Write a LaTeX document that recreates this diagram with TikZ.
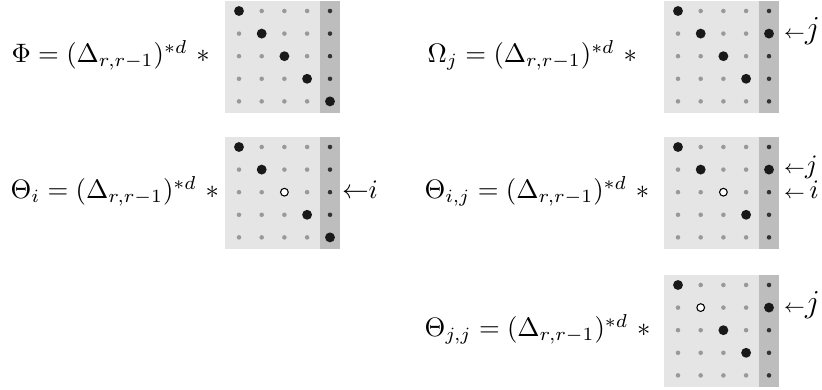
\documentclass[tikz,border=0pt]{standalone}
\usepackage{tikz}
\usetikzlibrary{positioning}

\begin{document}
\begin{tikzpicture}[
    x=0.375pt, y=-0.375pt,
    panelbg/.style={fill=black!10},
    stripbg/.style={fill=black!26},
    smalldot/.style={circle, fill=black!40, inner sep=0pt, minimum size=1.7pt},
    stripdot/.style={circle, fill=black!80, inner sep=0pt, minimum size=1.7pt},
    bigdot/.style={circle, fill=black!90, inner sep=0pt, minimum size=3.7pt},
    opendot/.style={circle, draw=black, fill=white, line width=0.4pt,
        inner sep=0pt, minimum size=2.9pt},
    eq/.style={anchor=base west, inner sep=0pt},
    tag/.style={anchor=base west, inner sep=0pt},
    bigtag/.style={tag, font=\fontsize{11.5}{14}\selectfont},
]
\useasboundingbox (0,0) rectangle (822,390);

% gray panels with their 5x5 grids of dots
\foreach \nm/\px/\py in {phi/225/1, omega/664/1, thi/225/137, thij/664/137, thjj/664/275} {
    \fill[panelbg] (\px,\py) rectangle ++(95,112);
    \fill[stripbg] (\px+95,\py) rectangle ++(20,112);
    \foreach \r in {1,...,5} {
        \foreach \c in {1,...,4}
            \node[smalldot] (\nm-\r-\c) at ({\px+14+22.7*(\c-1)}, {\py+10+22.6*(\r-1)}) {};
        \node[stripdot] (\nm-\r-5) at ({\px+105}, {\py+10+22.6*(\r-1)}) {};
    }
}

% Phi
\node[eq] (phieq) at (11,63) {$\Phi = (\Delta_{r,r-1})^{*d}\ \ast$};
\foreach \r/\c in {1/1, 2/2, 3/3, 4/4, 5/5}
    \node[bigdot] at (phi-\r-\c) {};

% Omega_j
\node[eq] (omegaeq) at (427,63) {$\Omega_j = (\Delta_{r,r-1})^{*d}\ \ast$};
\foreach \r/\c in {1/1, 2/2, 3/3, 4/4, 2/5}
    \node[bigdot] at (omega-\r-\c) {};
\node[bigtag] (omegaj) at ([xshift=5.4pt, yshift=-1.8pt]omega-2-5.center)
    {{\scriptsize$\leftarrow$}$j$};

% Theta_i
\node[eq] (thieq) at (10,199) {$\Theta_i = (\Delta_{r,r-1})^{*d}\ \ast$};
\foreach \r/\c in {1/1, 2/2, 4/4, 5/5}
    \node[bigdot] at (thi-\r-\c) {};
\node[opendot] at (thi-3-3) {};
\node[tag] (thii) at ([xshift=4.3pt, yshift=-2.5pt]thi-3-5.center) {${\leftarrow}i$};

% Theta_{i,j}
\node[eq] (thijeq) at (424,199) {$\Theta_{i,j} = (\Delta_{r,r-1})^{*d}\ \ast$};
\foreach \r/\c in {1/1, 2/2, 4/4, 2/5}
    \node[bigdot] at (thij-\r-\c) {};
\node[opendot] at (thij-3-3) {};
\node[tag] (thijj) at ([xshift=5.4pt, yshift=-1.4pt]thij-2-5.center)
    {{\scriptsize$\leftarrow$}$j$};
\node[tag] (thiji) at ([xshift=5.4pt, yshift=-2.3pt]thij-3-5.center)
    {{\scriptsize$\leftarrow$}$\,i$};

% Theta_{j,j}
\node[eq] (thjjeq) at (424,337) {$\Theta_{j,j} = (\Delta_{r,r-1})^{*d}\ \ast$};
\foreach \r/\c in {1/1, 3/3, 4/4, 2/5}
    \node[bigdot] at (thjj-\r-\c) {};
\node[opendot] at (thjj-2-2) {};
\node[bigtag] (thjjj) at ([xshift=5.4pt, yshift=-1.8pt]thjj-2-5.center)
    {{\scriptsize$\leftarrow$}$j$};

\end{tikzpicture}
\end{document}
